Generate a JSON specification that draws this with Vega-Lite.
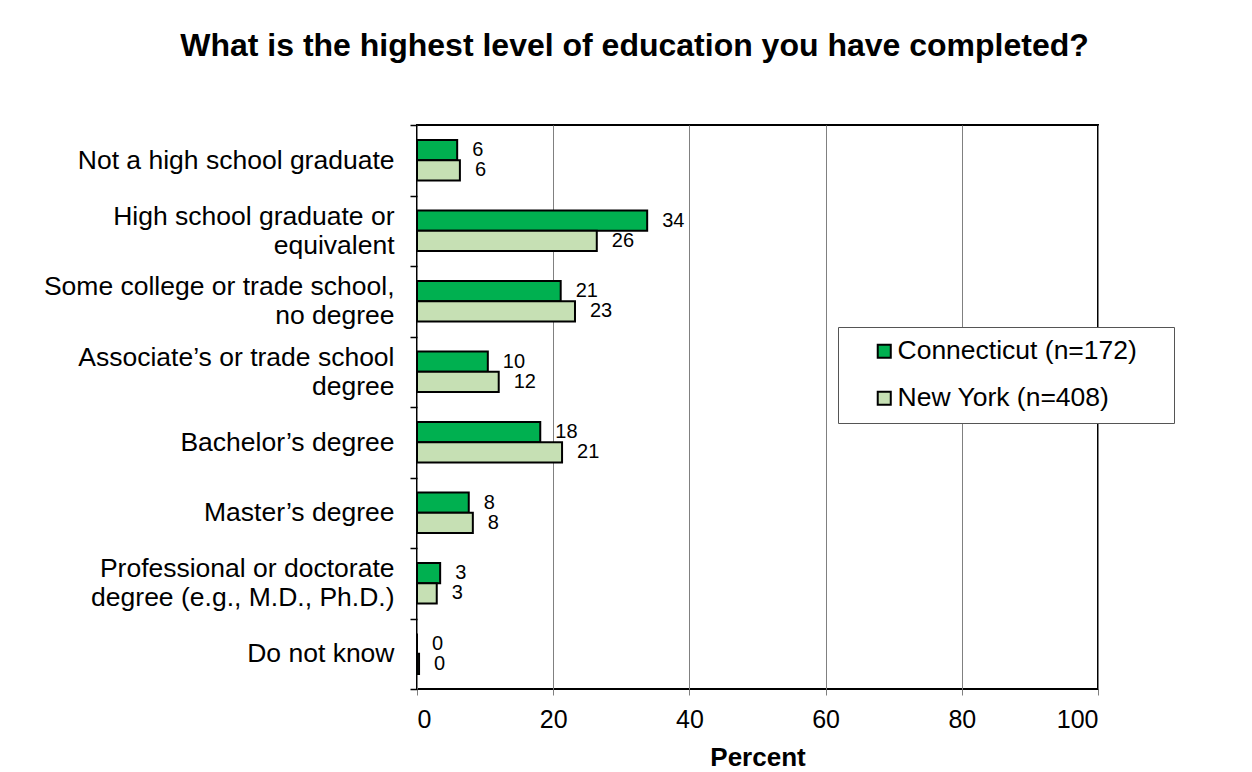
{
  "$schema": "https://vega.github.io/schema/vega-lite/v6.json",
  "width": 681,
  "height": 564,
  "autosize": {"type": "none"},
  "padding": {"left": 417, "top": 125, "right": 154, "bottom": 83},
  "background": "white",
  "title": {
    "text": "What is the highest level of education you have completed?",
    "font": "Liberation Sans",
    "fontSize": 32,
    "fontWeight": "bold",
    "color": "black",
    "anchor": "middle",
    "dx": -123,
    "offset": 49
  },
  "config": {
    "font": "Liberation Sans",
    "view": {"stroke": "black", "strokeWidth": 2}
  },
  "data": {
    "values": [
      {"cat": "Not a high school graduate", "state": "Connecticut (n=172)", "value": 5.9},
      {"cat": "Not a high school graduate", "state": "New York (n=408)", "value": 6.3},
      {"cat": "High school graduate or|equivalent", "state": "Connecticut (n=172)", "value": 33.8},
      {"cat": "High school graduate or|equivalent", "state": "New York (n=408)", "value": 26.4},
      {"cat": "Some college or trade school,|no degree", "state": "Connecticut (n=172)", "value": 21.1},
      {"cat": "Some college or trade school,|no degree", "state": "New York (n=408)", "value": 23.2},
      {"cat": "Associate’s or trade school|degree", "state": "Connecticut (n=172)", "value": 10.4},
      {"cat": "Associate’s or trade school|degree", "state": "New York (n=408)", "value": 12.0},
      {"cat": "Bachelor’s degree", "state": "Connecticut (n=172)", "value": 18.1},
      {"cat": "Bachelor’s degree", "state": "New York (n=408)", "value": 21.3},
      {"cat": "Master’s degree", "state": "Connecticut (n=172)", "value": 7.6},
      {"cat": "Master’s degree", "state": "New York (n=408)", "value": 8.2},
      {"cat": "Professional or doctorate|degree (e.g., M.D., Ph.D.)", "state": "Connecticut (n=172)", "value": 3.4},
      {"cat": "Professional or doctorate|degree (e.g., M.D., Ph.D.)", "state": "New York (n=408)", "value": 2.9},
      {"cat": "Do not know", "state": "Connecticut (n=172)", "value": 0},
      {"cat": "Do not know", "state": "New York (n=408)", "value": 0.3}
    ]
  },
  "encoding": {
    "y": {
      "field": "cat",
      "type": "nominal",
      "sort": [
        "Not a high school graduate",
        "High school graduate or|equivalent",
        "Some college or trade school,|no degree",
        "Associate’s or trade school|degree",
        "Bachelor’s degree",
        "Master’s degree",
        "Professional or doctorate|degree (e.g., M.D., Ph.D.)",
        "Do not know"
      ],
      "scale": {"paddingInner": 0, "paddingOuter": 0},
      "axis": {
        "title": null,
        "labelExpr": "datum.value ? split(datum.value, '|') : ''",
        "labelFontSize": 26.5,
        "labelColor": "black",
        "labelLineHeight": 29,
        "labelPadding": 16,
        "labelLimit": 500,
        "labelOffset": {"condition": {"test": "datum.value && indexof(datum.value, '|') >= 0", "value": -14.5}, "value": 0},
        "tickBand": "extent",
        "tickSize": 7,
        "tickColor": "black",
        "tickWidth": 1.5,
        "domain": false,
        "grid": false
      }
    },
    "yOffset": {
      "field": "state",
      "type": "nominal",
      "sort": ["Connecticut (n=172)", "New York (n=408)"],
      "scale": {"paddingInner": 0, "paddingOuter": 0.75}
    },
    "x": {
      "field": "value",
      "type": "quantitative",
      "scale": {"domain": [0, 100], "nice": false},
      "axis": {
        "title": "Percent",
        "titleFontSize": 26,
        "titleFontWeight": "bold",
        "titleColor": "black",
        "titlePadding": 12,
        "values": [0, 20, 40, 60, 80, 100],
        "labelFontSize": 25,
        "labelColor": "black",
        "labelPadding": 12,
        "tickSize": 6,
        "tickColor": "#808080",
        "domain": false,
        "grid": true,
        "gridColor": "#808080",
        "gridWidth": 1,
        "gridOpacity": 1
      }
    }
  },
  "layer": [
    {
      "mark": {"type": "bar", "stroke": "black", "strokeWidth": 2},
      "encoding": {
        "fill": {
          "field": "state",
          "type": "nominal",
          "scale": {
            "domain": ["Connecticut (n=172)", "New York (n=408)"],
            "range": ["#00B050", "#C6E0B4"]
          },
          "legend": {
            "title": "\u00a0",
            "titleOrient": "right",
            "titlePadding": 26,
            "titleFontSize": 4,
            "orient": "none",
            "legendX": 421,
            "legendY": 202,
            "direction": "vertical",
            "fillColor": "white",
            "strokeColor": "#555555",
            "padding": 11,
            "symbolType": "square",
            "symbolSize": 170,
            "symbolStrokeColor": "black",
            "symbolStrokeWidth": 2,
            "symbolOffset": 22,
            "labelFontSize": 26.5,
            "labelColor": "black",
            "labelOffset": 0,
            "labelLimit": 400,
            "rowPadding": 20
          }
        }
      }
    },
    {
      "mark": {"type": "text", "align": "left", "baseline": "middle", "dx": 15, "fontSize": 20, "color": "black"},
      "encoding": {
        "text": {"field": "value", "type": "quantitative", "format": ".0f"}
      }
    }
  ]
}
